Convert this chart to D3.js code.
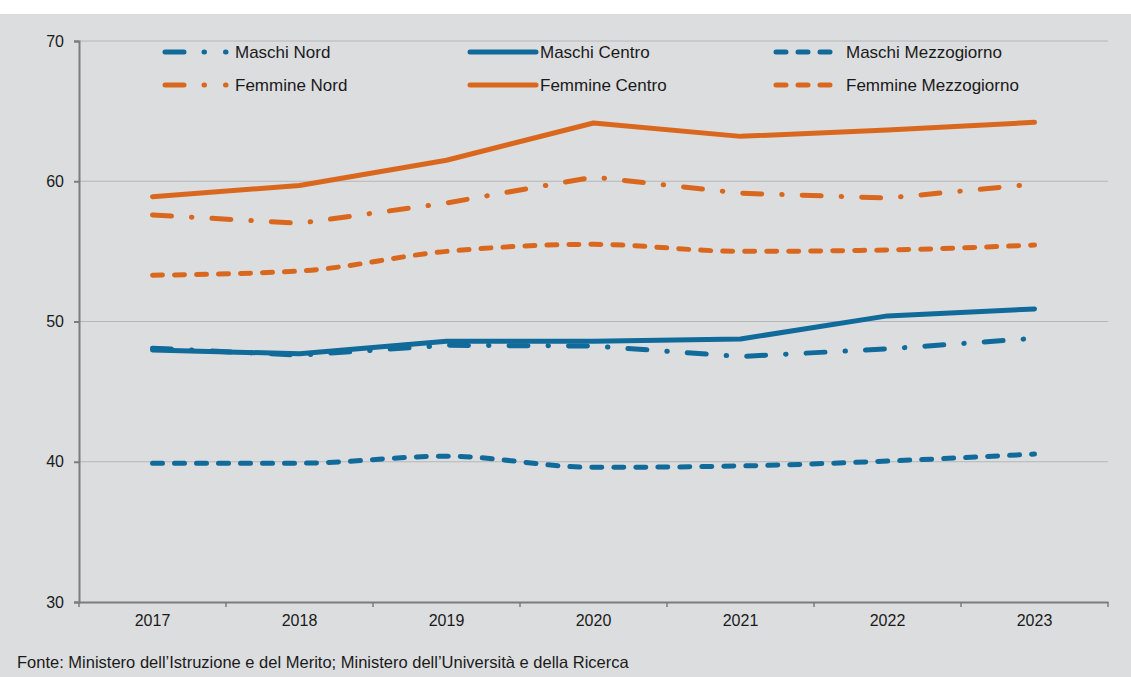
<!DOCTYPE html>
<html>
<head>
<meta charset="utf-8">
<script src="https://cdn.jsdelivr.net/npm/d3@7"></script>
<style>
  body { margin: 0; background: #fff; }
  svg { display: block; font-family: "Liberation Sans", Arial, sans-serif; }
</style>
</head>
<body>
<svg id="chart" width="1131" height="677"></svg>
<script>
// data
const years = ['2017', '2018', '2019', '2020', '2021', '2022', '2023'];
const maschiNord = [48.1, 47.6, 48.3, 48.25, 47.5, 48.05, 48.8];
const maschiCentro = [47.97, 47.7, 48.6, 48.6, 48.75, 50.4, 50.9];
const maschiMezzogiorno = [39.9, 39.9, 40.4, 39.6, 39.7, 40.05, 40.55];
const femmineNord = [57.6, 57.0, 58.45, 60.3, 59.15, 58.8, 59.8];
const femmineCentro = [58.9, 59.7, 61.5, 64.15, 63.2, 63.65, 64.2];
const femmineMezzogiorno = [53.3, 53.6, 55.0, 55.5, 55.0, 55.1, 55.45];
const yTicks = [30, 40, 50, 60, 70];

const blue = '#106a9a', orange = '#d9681e';
const series = [
  { name: 'Maschi Nord', values: maschiNord, color: blue, kind: 'dashdot' },
  { name: 'Maschi Centro', values: maschiCentro, color: blue, kind: 'solid' },
  { name: 'Maschi Mezzogiorno', values: maschiMezzogiorno, color: blue, kind: 'dash' },
  { name: 'Femmine Nord', values: femmineNord, color: orange, kind: 'dashdot' },
  { name: 'Femmine Centro', values: femmineCentro, color: orange, kind: 'solid' },
  { name: 'Femmine Mezzogiorno', values: femmineMezzogiorno, color: orange, kind: 'dash' }
];

const dashes = { solid: null, dash: '10,12', dashdot: '19,20,0.5,20' };
const legendDashes = { solid: null, dash: '10,12', dashdot: '19,20,0.5,21,0.5,100' };

const svg = d3.select('#chart');
const W = 1131, H = 677;
const m = { left: 79, right: 23, top: 41, bottom: 75 };

svg.append('rect').attr('width', W).attr('height', H).attr('fill', '#dcdddf');
svg.append('rect').attr('width', W).attr('height', 14).attr('fill', '#fff');

const x = d3.scaleBand().domain(years).range([m.left, W - m.right]);
const y = d3.scaleLinear().domain([30, 70]).range([H - m.bottom, m.top]);

// gridlines
svg.append('g')
  .selectAll('line')
  .data(yTicks.slice(1))
  .join('line')
  .attr('x1', m.left).attr('x2', W - m.right)
  .attr('y1', d => y(d)).attr('y2', d => y(d))
  .attr('stroke', '#b5b6b8').attr('stroke-width', 1);

// y axis
let yAxis = svg.append('g')
  .attr('transform', `translate(${m.left},0)`)
  .call(d3.axisLeft(y).tickValues(yTicks).tickSize(5).tickPadding(10));
yAxis.select('.domain').attr('stroke', '#7b7c7e').attr('stroke-width', 2);
yAxis.selectAll('.tick line').attr('stroke', '#7b7c7e').attr('stroke-width', 2);
yAxis.selectAll('text').attr('font-size', 16).attr('fill', '#1a1a1a')
  .attr('font-family', '"Liberation Sans", Arial, sans-serif');

// x axis, ticks on category boundaries
let xAxis = svg.append('g')
  .attr('transform', `translate(0,${H - m.bottom})`)
  .call(d3.axisBottom(x).tickSize(0).tickPadding(13));
xAxis.select('.domain').attr('stroke', '#7b7c7e').attr('stroke-width', 2);
xAxis.selectAll('text').attr('font-size', 16).attr('fill', '#1a1a1a')
  .attr('font-family', '"Liberation Sans", Arial, sans-serif');
xAxis.selectAll('.bound')
  .data(years.concat(['end']))
  .join('line')
  .attr('class', 'bound')
  .attr('x1', (d, i) => m.left + i * x.step())
  .attr('x2', (d, i) => m.left + i * x.step())
  .attr('y1', 0).attr('y2', 5)
  .attr('stroke', '#7b7c7e').attr('stroke-width', 1.5);

// lines
const cx = d => x(d) + x.bandwidth() / 2;
const line = d3.line()
  .x(d => cx(d.year))
  .y(d => y(d.v));

svg.append('g')
  .selectAll('path')
  .data(series)
  .join('path')
  .attr('d', s => line.curve(s.kind === 'dash' ? d3.curveMonotoneX : d3.curveLinear)(
    s.values.map((v, i) => ({ year: years[i], v }))))
  .attr('fill', 'none')
  .attr('stroke', s => s.color)
  .attr('stroke-width', 5)
  .attr('stroke-linecap', 'round')
  .attr('stroke-linejoin', 'round')
  .attr('stroke-dasharray', s => dashes[s.kind]);

// legend
const legendCols = [165, 470, 776];
const legendRows = [52, 85];
const leg = svg.append('g')
  .selectAll('g')
  .data(series)
  .join('g')
  .attr('transform', (s, i) => `translate(${legendCols[i % 3]},${legendRows[Math.floor(i / 3)]})`);

leg.append('line')
  .attr('x1', 0).attr('x2', s => s.kind === 'solid' ? 66 : (s.kind === 'dash' ? 60 : 63))
  .attr('stroke', s => s.color)
  .attr('stroke-width', 5)
  .attr('stroke-linecap', 'round')
  .attr('stroke-dasharray', s => legendDashes[s.kind]);

leg.append('text')
  .attr('x', 70)
  .attr('dy', '0.35em')
  .attr('font-size', 17)
  .attr('fill', '#1a1a1a')
  .text(s => s.name);

// source
svg.append('text')
  .attr('x', 17).attr('y', 668)
  .attr('font-size', 16.5)
  .attr('fill', '#1a1a1a')
  .text('Fonte: Ministero dell\u2019Istruzione e del Merito; Ministero dell\u2019Università e della Ricerca');
</script>
</body>
</html>
